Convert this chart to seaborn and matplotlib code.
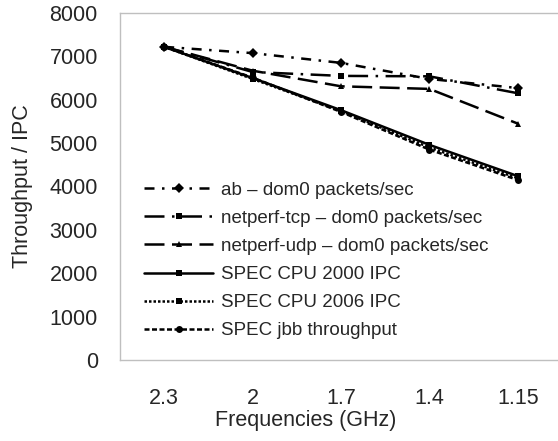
import numpy as np
import pandas as pd
import seaborn as sns
import matplotlib.pyplot as plt

freqs = ["2.3", "2", "1.7", "1.4", "1.15"]

ab_dom0 = [7220, 7075, 6850, 6480, 6270]
netperf_tcp = [7220, 6640, 6550, 6540, 6150]
netperf_udp = [7220, 6670, 6310, 6250, 5450]
spec_cpu2000 = [7220, 6500, 5760, 4960, 4240]
spec_cpu2006 = [7220, 6480, 5740, 4900, 4190]
spec_jbb = [7220, 6510, 5720, 4850, 4150]

names = ["ab \u2013 dom0 packets/sec",
         "netperf-tcp \u2013 dom0 packets/sec",
         "netperf-udp \u2013 dom0 packets/sec",
         "SPEC CPU 2000 IPC",
         "SPEC CPU 2006 IPC",
         "SPEC jbb throughput"]
series = [ab_dom0, netperf_tcp, netperf_udp, spec_cpu2000, spec_cpu2006, spec_jbb]

rows = []
for name, vals in zip(names, series):
    for f, v in zip(freqs, vals):
        rows.append({"freq": f, "value": v, "series": name})
df = pd.DataFrame(rows)

sns.set_style("white")
plt.rcParams['font.family'] = ['Liberation Sans', 'DejaVu Sans']
fs = 15.5
legend_fs = 13.5

# dash patterns in units of line width
dashes = {
    names[0]: (4, 3, 1, 3),
    names[1]: (8, 3, 1, 3),
    names[2]: (8, 3),
    names[3]: "",
    names[4]: (1, 0.8),
    names[5]: (2, 1),
}
markers = {
    names[0]: "D",
    names[1]: "s",
    names[2]: "^",
    names[3]: "s",
    names[4]: "s",
    names[5]: "o",
}

fig = plt.figure(figsize=(5.58, 4.41), dpi=100)
ax = fig.add_axes([120 / 558, 1 - 360 / 441, 442 / 558, 347 / 441])

sns.lineplot(data=df, x="freq", y="value", hue="series", style="series",
             palette=["black"] * 6, dashes=dashes, markers=markers,
             markersize=5, linewidth=1.8, sort=False, ax=ax)

for line in ax.lines:
    line.set_markeredgewidth(0)

ax.set_xlim(-0.5, 4.5)
ax.set_ylim(0, 8000)
ax.set_yticks(np.arange(0, 8001, 1000))
ax.tick_params(axis="y", length=0, pad=16, labelsize=fs)
ax.tick_params(axis="x", length=0, pad=20, labelsize=fs)
for s in ax.spines.values():
    s.set_color("#BFBFBF")
    s.set_linewidth(1)
ax.spines["right"].set_visible(False)

ax.set_xlabel("Frequencies (GHz)", fontsize=fs, labelpad=1)
ax.xaxis.set_label_coords(0.42, -0.145)
ax.set_ylabel("Throughput / IPC", fontsize=fs, labelpad=12)

handles, labels = ax.get_legend_handles_labels()
for h in handles:
    h.set_markersize(5)
ax.legend(handles, labels, loc="center left", bbox_to_anchor=(0.054, 0.287),
          frameon=False, handlelength=3.7, handletextpad=0.43,
          labelspacing=0.59, fontsize=legend_fs, borderaxespad=0, borderpad=0)

fig.savefig("out.png", dpi=100)
